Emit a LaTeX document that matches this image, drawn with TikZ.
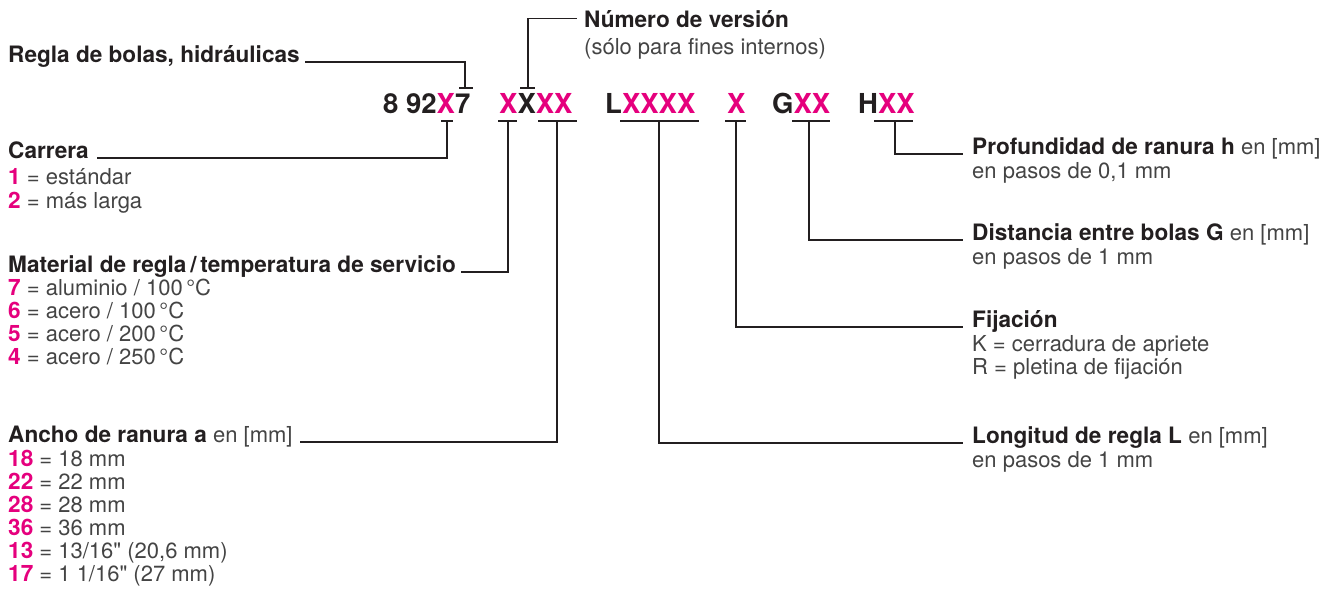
\documentclass[tikz,border=0pt]{standalone}
\usepackage{fontspec}
\setmainfont{TeX Gyre Heros}[Ligatures=TeXOff]
\definecolor{mag}{HTML}{E5007D}
\definecolor{ink}{HTML}{231F20}
\definecolor{lite}{HTML}{444444}
\newcommand\lblfont{\fontsize{22}{23}\selectfont}
\newcommand\hdfont{\fontsize{22.6}{23}\selectfont\bfseries}
\newcommand\cdfont{\fontsize{27.5}{30}\selectfont\bfseries}
\newcommand\mg[1]{{\color{mag}#1}}
\newcommand\mb[1]{{\hdfont\color{mag}#1}}
\newcommand\rg[1]{{\lblfont\mdseries\color{lite}#1}}
\begin{document}
\begin{tikzpicture}[x=1pt,y=-1pt,
  hd/.style={anchor=base west,inner sep=0pt,font=\hdfont,text=ink},
  tx/.style={anchor=base west,inner sep=0pt,font=\lblfont,text=lite},
  cd/.style={anchor=base west,inner sep=0pt,font=\cdfont,text=ink},
  ld/.style={draw=ink,line width=1.2pt},
  tk/.style={draw=ink,line width=1.2pt}]
\useasboundingbox (0,0) rectangle (1320,606);

% code line
\node[cd] (g1) at (383,113) {8 92\mg{X}7};
\node[cd] (g2) at (499,113) {\mg{X}X\mg{XX}};
\node[cd] (g3) at (605,113) {L\mg{XXXX}};
\node[cd] (g4) at (727,113) {\mg{X}};
\node[cd] (g5) at (772,113) {G\mg{XX}};
\node[cd] (g6) at (858,113) {H\mg{XX}};

% tick points
\coordinate (tr) at (465,88);
\coordinate (tn) at (528,88);
\coordinate (tc) at (447,121);
\coordinate (tm) at (508,121);
\coordinate (ta) at (557,121);
\coordinate (tl) at (659,121);
\coordinate (tf) at (736,121);
\coordinate (tg) at (809,121);
\coordinate (th) at (895,121);

% tick bars
\draw[tk] (459,88) -- (473,88);
\draw[tk] (520,88) -- (535,88);
\draw[tk] (441,121) -- (453,121);
\draw[tk] (498,121) -- (517,121);
\draw[tk] (538,121) -- (577,121);
\draw[tk] (620,121) -- (699,121);
\draw[tk] (725,121) -- (746,121);
\draw[tk] (792,121) -- (830,121);
\draw[tk] (874,121) -- (913,121);

% top labels
\node[hd] (num) at (584,27) {Número de versión};
\node[tx] (numb) at (584,54) {(sólo para fines internos)};
\node[hd] (reg) at (8,62) {Regla de bolas, hidráulicas};

% left labels
\node[hd] (car) at (8,158) {Carrera};
\node[tx] (car1) at (8,184) {\mb{1} = estándar};
\node[tx] (car2) at (8,208) {\mb{2} = más larga};

\node[hd] (mat) at (8,272) {Material de regla\,/\,temperatura de servicio};
\node[tx] (mat1) at (8,295) {\mb{7} = aluminio / 100\,°C};
\node[tx] (mat2) at (8,318) {\mb{6} = acero / 100\,°C};
\node[tx] (mat3) at (8,341) {\mb{5} = acero / 200\,°C};
\node[tx] (mat4) at (8,364) {\mb{4} = acero / 250\,°C};

\node[hd] (anc) at (8,442) {Ancho de ranura a \rg{en [mm]}};
\node[tx] (anc1) at (8,466) {\mb{18} = 18 mm};
\node[tx] (anc2) at (8,489) {\mb{22} = 22 mm};
\node[tx] (anc3) at (8,512) {\mb{28} = 28 mm};
\node[tx] (anc4) at (8,535) {\mb{36} = 36 mm};
\node[tx] (anc5) at (8,558) {\mb{13} = 13/16" (20,6 mm)};
\node[tx] (anc6) at (8,581) {\mb{17} = 1 1/16" (27 mm)};

% right labels
\node[hd] (pro) at (972,154) {Profundidad de ranura h \rg{en [mm]}};
\node[tx] (pro1) at (972,178) {en pasos de 0,1 mm};
\node[hd] (dis) at (972,240) {Distancia entre bolas G \rg{en [mm]}};
\node[tx] (dis1) at (972,264) {en pasos de 1 mm};
\node[hd] (fij) at (972,327) {Fijación};
\node[tx] (fij1) at (972,351) {K = cerradura de apriete};
\node[tx] (fij2) at (972,374) {R = pletina de fijación};
\node[hd] (lon) at (972,443) {Longitud de regla L \rg{en [mm]}};
\node[tx] (lon1) at (972,467) {en pasos de 1 mm};

% leaders
\draw[ld] (tn) |- ([xshift=-7pt]num.west);
\draw[ld] (tr) |- ([xshift=5pt]reg.base east);
\draw[ld] (tc) |- ([xshift=8pt]car.base east);
\draw[ld] (tm) |- ([xshift=5pt]mat.base east);
\draw[ld] (ta) |- ([xshift=7pt]anc.base east);
\draw[ld] (tl) |- ([xshift=-9pt]lon.base west);
\draw[ld] (tf) |- ([xshift=-9pt]fij.base west);
\draw[ld] (tg) |- ([xshift=-9pt]dis.base west);
\draw[ld] (th) |- ([xshift=-9pt]pro.base west);
\end{tikzpicture}
\end{document}
